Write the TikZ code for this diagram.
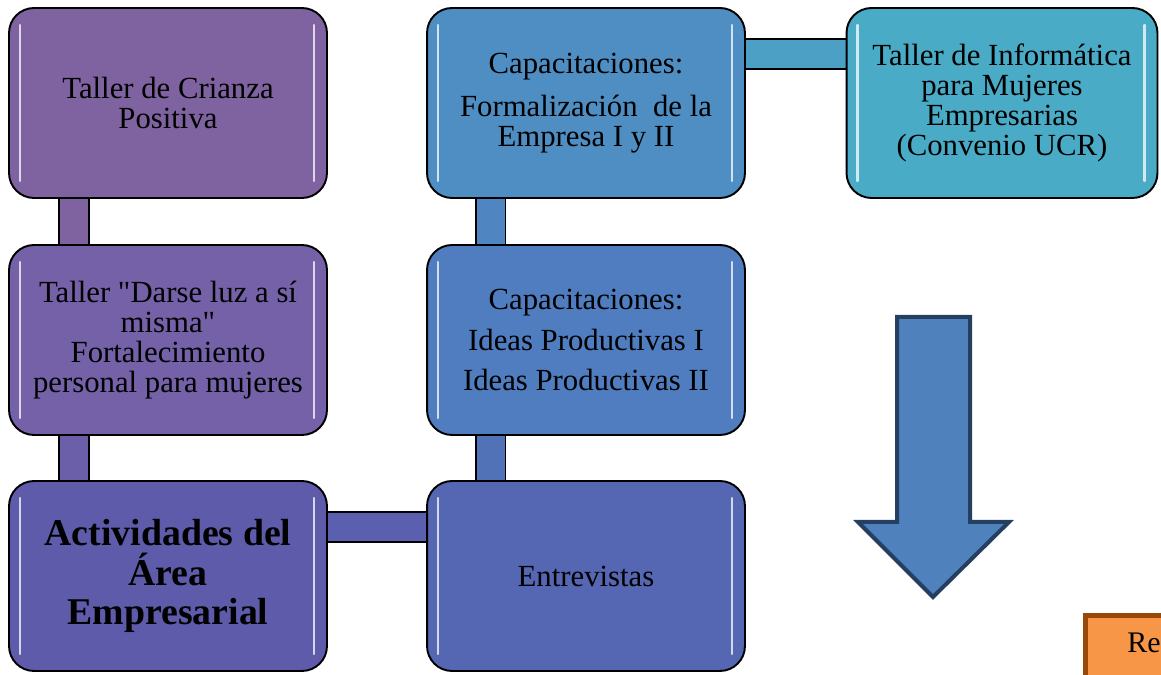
\documentclass[tikz,border=0pt]{standalone}
\usepackage{fontspec}
\setmainfont{Liberation Serif}[Ligatures=TeXOff]
\usetikzlibrary{positioning,calc,backgrounds}
\definecolor{crianzaC}{HTML}{7F63A1}
\definecolor{darseC}{HTML}{7461A7}
\definecolor{activC}{HTML}{5F5BAB}
\definecolor{entrevC}{HTML}{5566B2}
\definecolor{ideasC}{HTML}{4F7DBF}
\definecolor{formalC}{HTML}{4F8EC3}
\definecolor{informC}{HTML}{4AABC6}
\definecolor{arrowC}{HTML}{4F81BD}
\definecolor{arrowD}{HTML}{243F60}
\definecolor{orangeC}{HTML}{F79646}
\definecolor{orangeD}{HTML}{984807}
\begin{document}
\begin{tikzpicture}[x=0.02cm,y=-0.02cm,
  box/.style={draw=black, line width=1.1pt, rounded corners=0.5cm,
    minimum width=6.36cm, minimum height=3.8cm, align=center,
    font=\fontsize{17.5}{17}\selectfont},
  shine/.style={white, opacity=0.75, line width=1.4pt, line cap=round},
  bar/.style={draw=black, line width=1pt, double distance=0.56cm, shorten <=-3pt, shorten >=-3pt}]
\useasboundingbox (0,0) rectangle (1161,675);
\clip (0,0) rectangle (1161,675);
%% first column
\node [box, fill=crianzaC] (crianza) at (168,103) {Taller de Crianza\\Positiva};
\node [box, fill=darseC] (darse) at (168,340) {Taller "Darse luz a sí\\misma"\\Fortalecimiento\\personal para mujeres};
\node [box, fill=activC, font=\bfseries\fontsize{21.5}{22.7}\selectfont] (activ) at (168,576) {Actividades del\\Área\\Empresarial};
%% second column
\node [box, fill=formalC] (formal) at (586,103) {Capacitaciones:\\[0.26cm]Formalización\ \ de la\\Empresa I y II};
\node [box, fill=ideasC] (ideas) at (586,340) {Capacitaciones:\\[0.22cm]Ideas Productivas I\\[0.22cm]Ideas Productivas II};
\node [box, fill=entrevC] (entrev) at (586,576) {Entrevistas};
%% third column
\node [box, fill=informC, minimum width=6.22cm] (inform) at (1002,103) {Taller de Informática\\para Mujeres\\Empresarias\\(Convenio UCR)};
%% highlights
\foreach \n in {crianza,darse,activ,formal,ideas,entrev,inform}{
  \draw [shine] ($(\n.north west)+(12,18)$) -- ($(\n.south west)+(12,-18)$);
  \draw [shine] ($(\n.north east)+(-14,18)$) -- ($(\n.south east)+(-14,-18)$);
}
%% connectors
\begin{scope}[on background layer]
\draw [bar, double=crianzaC!97!darseC] ([xshift=1.32cm]crianza.south west) -- ([xshift=1.32cm]darse.north west);
\draw [bar, double=darseC!60!activC] ([xshift=1.32cm]darse.south west) -- ([xshift=1.32cm]activ.north west);
\draw [bar, double=activC!50!entrevC] ([yshift=-0.94cm]activ.north east) -- ([yshift=-0.94cm]entrev.north west);
\draw [bar, double=entrevC!50!ideasC] ([xshift=1.29cm]entrev.north west) -- ([xshift=1.29cm]ideas.south west);
\draw [bar, double=ideasC!50!formalC] ([xshift=1.29cm]ideas.north west) -- ([xshift=1.29cm]formal.south west);
\draw [bar, double=formalC!40!informC] ([yshift=-0.94cm]formal.north east) -- ([yshift=-0.94cm]inform.north west);
\end{scope}
%% big arrow
\draw [fill=arrowC, draw=arrowD, line width=0.08cm, miter limit=10]
  (897,317) -- (970,317) -- (970,522) -- (1009,522) -- (933,597) -- (858,522) -- (897,522) -- cycle;
%% orange box, cut off
\draw [fill=orangeC, draw=orangeD, line width=0.1cm] (1085.5,615.5) rectangle (1250,720);
\node [anchor=base west, inner sep=0pt, font=\fontsize{17}{17}\selectfont] (result) at (1127,653) {Re};
\end{tikzpicture}
\end{document}
